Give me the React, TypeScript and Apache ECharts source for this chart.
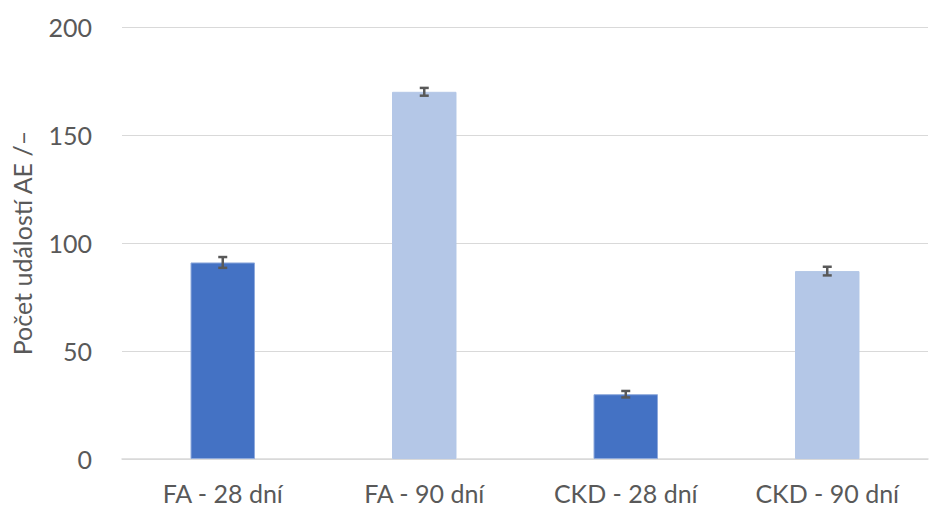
import React, { useEffect, useRef } from "react";
import * as echarts from "echarts";

const categories = ["FA - 28 dní", "FA - 90 dní", "CKD - 28 dní", "CKD - 90 dní"];
const values = [91, 170, 30, 87];
const errors = [2.5, 1.8, 1.5, 2.0];
const barColors = ["#4472C4", "#B4C7E7", "#4472C4", "#B4C7E7"];
const yTicks = { min: 0, max: 200, interval: 50 };
const yName = "Počet událostí AE /–";

export default function App() {
  const ref = useRef<HTMLDivElement>(null);
  useEffect(() => {
    if (!ref.current) return;
    const chart = echarts.init(ref.current, null, { renderer: "svg" });
    const font = "Lato, 'Open Sans', sans-serif";
    chart.setOption({
      animation: false,
      grid: { left: 122, right: 2, top: 27, bottom: 49, containLabel: false },
      xAxis: {
        type: "category",
        data: categories,
        axisTick: { show: false },
        axisLine: { lineStyle: { color: "#D9D9D9", width: 1.5 } },
        axisLabel: { color: "#595959", fontSize: 25, lineHeight: 24, fontFamily: font, margin: 22 },
      },
      yAxis: {
        type: "value",
        min: yTicks.min,
        max: yTicks.max,
        interval: yTicks.interval,
        name: yName,
        nameLocation: "middle",
        nameGap: 88,
        nameTextStyle: { color: "#595959", fontSize: 25, fontFamily: font },
        axisLabel: { color: "#595959", fontSize: 25, fontFamily: font, margin: 30 },
        splitLine: { lineStyle: { color: "#D9D9D9", width: 1 } },
        axisLine: { show: false },
        axisTick: { show: false },
      },
      series: [
        {
          type: "bar",
          barWidth: "32%",
          data: values.map((v, i) => ({
            value: v,
            itemStyle: {
              color: barColors[i],
              borderColor: i % 2 === 0 ? "#8FAADC" : "#B4C7E7",
              borderWidth: 1,
            },
          })),
        },
        {
          type: "custom",
          data: values.map((v, i) => [i, v, errors[i]]),
          z: 10,
          renderItem: (params: any, api: any) => {
            const idx = api.value(0);
            const v = api.value(1);
            const e = api.value(2);
            const top = api.coord([idx, v + e]);
            const bot = api.coord([idx, v - e]);
            const hw = 4.5;
            const style = { stroke: "#595959", lineWidth: 2.5, fill: "none" };
            return {
              type: "group",
              children: [
                { type: "line", shape: { x1: top[0], y1: top[1], x2: bot[0], y2: bot[1] }, style },
                { type: "line", shape: { x1: top[0] - hw, y1: top[1], x2: top[0] + hw, y2: top[1] }, style },
                { type: "line", shape: { x1: bot[0] - hw, y1: bot[1], x2: bot[0] + hw, y2: bot[1] }, style },
              ],
            };
          },
        },
      ],
    });
    return () => chart.dispose();
  }, []);
  return (
    <div
      ref={ref}
      style={{ position: "fixed", left: 0, top: 0, width: 930, height: 508, background: "#fff" }}
    />
  );
}
